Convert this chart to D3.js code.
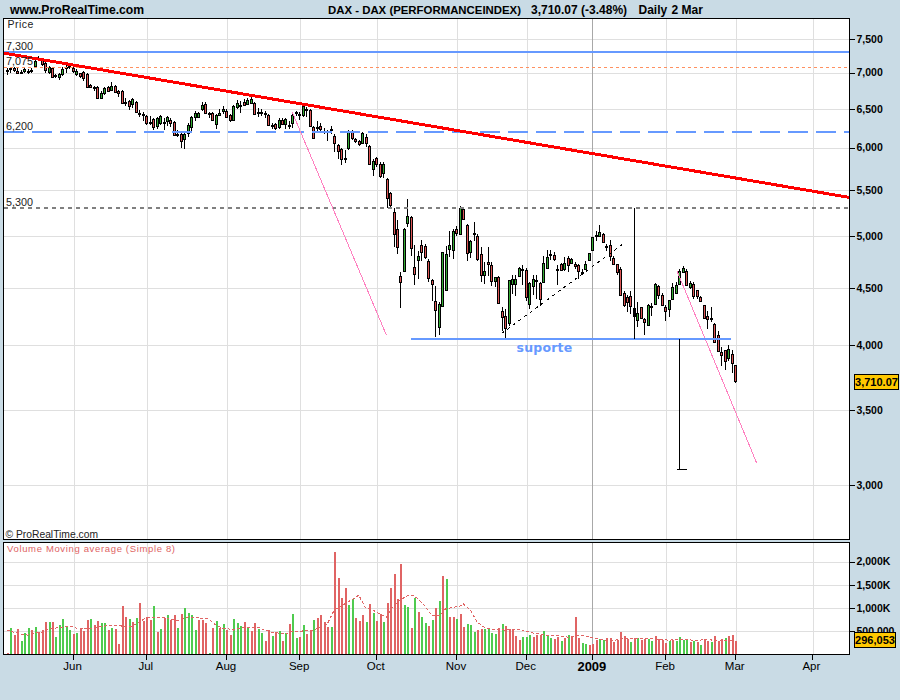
<!DOCTYPE html>
<html><head><meta charset="utf-8">
<script src="https://cdn.jsdelivr.net/npm/d3@7/dist/d3.min.js"></script>
<style>html,body{margin:0;padding:0;background:#c9dbe5}svg{display:block}text{font-family:"Liberation Sans",Arial,sans-serif}</style>
</head><body><svg id="c" width="900" height="700"></svg>
<script>
const opens=[7020,7050,7060,7030,7005,7020,7030,7035,7092,7205,
7180,7135,7006,7063,6963,6935,6977,7075,7092,7063,
6977,6990,7006,6977,6823,6795,6795,6644,6712,6795,
6754,6809,6740,6740,6590,6603,6563,6590,6444,6431,
6405,6320,6365,6276,6314,6318,6340,6352,6327,6165,
6174,6111,6186,6263,6392,6392,6497,6563,6444,6444,
6301,6418,6470,6470,6418,6352,6523,6550,6590,6563,
6577,6577,6457,6457,6444,6418,6288,6301,6263,6352,
6301,6288,6314,6444,6418,6418,6483,6483,6263,6263,
6276,6212,6212,6237,6149,6036,5987,5878,6000,6199,
6111,6086,6061,6136,6024,5748,5878,5807,5702,5620,
5461,5253,5074,4610,4657,5137,5200,4695,4763,4911,
4901,4753,4573,4381,4154,4336,4480,4871,4861,5074,
5023,5286,5116,4841,5033,5003,4822,4620,4743,4714,
4563,4601,4292,4248,4188,4535,4535,4610,4676,4667,
4354,4517,4573,4545,4554,4686,4822,4812,4676,4724,
4676,4782,4734,4724,4714,4648,4676,4763,4861,5013,
5003,5023,4901,4911,4782,4724,4676,4453,4417,4426,
4319,4214,4327,4222,4171,4336,4354,4517,4435,4327,
4310,4399,4453,4535,4648,4657,4508,4535,4480,4417,
4345,4248,4231,4180,4079,3939,3955,3891,3923,3836];
const highs=[7063,7080,7075,7060,7035,7063,7050,7063,7180,7240,
7200,7150,7090,7075,6975,6990,7078,7110,7115,7090,
7050,7000,7020,7000,6837,6810,6810,6740,6800,6810,
6860,6820,6760,6760,6650,6620,6644,6603,6483,6450,
6420,6405,6380,6395,6420,6372,6405,6370,6340,6224,
6190,6185,6310,6405,6470,6450,6590,6590,6460,6460,
6430,6500,6530,6500,6430,6550,6620,6603,6630,6644,
6660,6590,6510,6500,6470,6430,6315,6315,6370,6370,
6380,6340,6440,6470,6450,6560,6525,6500,6276,6340,
6310,6250,6225,6276,6170,6040,6000,5975,6225,6225,
6124,6100,6199,6174,6036,5860,5890,5820,5830,5640,
5480,5297,5169,4648,5085,5395,5211,4911,4851,4962,
4921,4770,4582,4517,4370,4841,4901,5054,5074,5106,
5318,5300,5127,4960,5148,5020,4892,4743,4892,4740,
4601,4605,4327,4310,4573,4620,4620,4695,4714,4686,
4550,4620,4620,4550,4802,4861,4861,4841,4714,4734,
4792,4802,4782,4743,4724,4676,4753,4832,4993,5054,
5116,5033,4921,4960,4802,4724,4695,4471,4430,4471,
4327,4372,4327,4231,4354,4363,4545,4526,4453,4345,
4390,4545,4554,4672,4705,4676,4563,4550,4480,4420,
4345,4292,4327,4185,4120,3980,3960,3996,3960,3840];
const lows=[6965,7000,7010,6975,6990,6990,6985,7000,7063,7180,
7100,6990,6975,6920,6920,6895,6950,7000,7050,7000,
6950,6920,6880,6781,6781,6740,6630,6630,6680,6720,
6740,6712,6660,6563,6537,6483,6510,6450,6390,6340,
6288,6288,6224,6240,6288,6224,6276,6263,6140,6130,
6000,5985,6135,6199,6340,6370,6470,6430,6380,6340,
6230,6405,6430,6380,6325,6340,6500,6437,6530,6550,
6563,6415,6390,6405,6380,6274,6240,6224,6240,6290,
6240,6240,6250,6400,6350,6390,6392,6260,6110,6180,
6200,6165,6086,6165,5950,5866,5795,5810,5975,6100,
6060,6020,6049,6012,5795,5663,5770,5632,5640,5297,
5297,4892,4822,4319,4650,5100,4802,4526,4582,4753,
4773,4554,4381,4070,4079,4336,4480,4792,4773,5000,
5023,5170,4753,4780,4952,4753,4554,4535,4610,4517,
4510,4354,4120,4045,4163,4444,4426,4610,4526,4381,
4310,4435,4400,4336,4545,4676,4763,4753,4526,4657,
4657,4648,4730,4676,4582,4620,4667,4758,4851,4952,
5003,4932,4851,4753,4714,4620,4426,4327,4283,4266,
4222,4154,4222,4079,4163,4248,4345,4399,4336,4205,
4240,4390,4444,4535,4640,4517,4490,4400,4399,4372,
4222,4137,4197,4020,3947,3828,3798,3867,3774,3700];
const closes=[7035,7065,7035,7000,7015,7045,7020,7040,7165,7215,
7121,7035,7078,6935,6955,6977,7050,7085,7080,7020,
7020,6950,6921,6795,6795,6790,6644,6712,6781,6740,
6809,6726,6712,6577,6585,6537,6630,6457,6437,6425,
6314,6310,6263,6379,6405,6310,6392,6314,6161,6158,
6086,6174,6288,6392,6444,6444,6550,6444,6437,6352,
6418,6444,6497,6392,6352,6537,6577,6545,6550,6617,
6630,6431,6450,6450,6440,6288,6282,6250,6352,6301,
6365,6280,6418,6450,6425,6537,6490,6276,6124,6258,
6237,6205,6205,6232,6061,5963,5866,5870,6199,6124,
6086,6049,6186,6061,5807,5842,5807,5667,5807,5406,
5330,5023,4892,4554,5074,5211,4882,4629,4802,4841,
4792,4591,4535,4301,4354,4841,4822,4911,5054,5033,
5297,5179,4832,4952,5028,4773,4620,4657,4725,4563,
4601,4363,4240,4146,4573,4582,4582,4686,4672,4417,
4545,4582,4570,4399,4734,4792,4825,4773,4672,4667,
4734,4714,4773,4705,4657,4645,4724,4832,4993,5018,
5044,4942,4896,4802,4724,4648,4435,4345,4372,4336,
4248,4275,4231,4197,4345,4332,4535,4435,4345,4292,
4390,4508,4526,4657,4686,4526,4545,4426,4426,4381,
4231,4222,4228,4029,3947,3915,3867,3963,3852,3710];

const volumes=[22,566,413,544,283,457,566,522,587,479,
522,696,696,696,370,631,761,609,522,435,
457,566,500,740,761,631,718,674,674,522,
566,544,218,1044,805,761,696,783,1109,718,
805,740,1044,479,544,783,848,740,848,566,
870,1000,892,848,522,740,740,674,22,566,
718,566,653,522,413,761,674,609,696,587,
500,674,544,457,283,522,392,479,500,283,
457,653,870,348,370,631,435,500,740,783,
848,696,587,587,2197,1653,1218,1436,1066,1196,
783,718,848,696,1088,892,718,870,696,1109,
1436,1740,1196,1936,1066,1022,566,1218,914,805,
674,609,740,1000,1153,1697,1631,805,805,761,
870,587,653,631,479,522,544,544,544,457,
435,566,653,609,544,544,392,305,370,370,
413,370,413,413,500,392,348,326,370,283,
348,413,370,805,348,239,218,196,218,305,
326,305,348,348,261,305,479,392,326,261,
348,348,305,326,326,283,392,326,305,239,
283,305,283,370,305,326,261,283,261,196,
326,283,261,392,283,326,348,392,413,296];
const volumeSides=[
"rgrrgggrgr","rrgrgggggr","grrrgrrggr","grrrrgrgrr",
"rrgrgrgrrg","rggggrrrgr","grgrrgggrg","rrggrrgrgr",
"grggrgrrgr","rrrgrrrrgg","rrrgrgrrgr","rrrrggrgrg",
"grgrgrgrrg","rrgggrrggg","grgrrrrrgg","grrrgggrrg",
"rgrrrggrrr","ggrrrrrrrg","rgrrggrrrr","grggggrgrg",
"rrgrrrgrrr"].join("");
const maIndex=[0,2,4,6,8,10,12,14,16,18,20,22,24,26,28,30,32,34,36,38,40,42,44,46,48,50,52,54,56,58,60,62,64,65,68,70,72,74,76,78,80,82,84,
86,88,90,92,94,96,98,100,101,103,105,107,109,111,113,115,117,120,122,124,126,130,131,133,135,137,139,143,147,151,155,159,161,165,169,173,178,183,187,190,194,198,201,204,208];
const maValues=[522,478,435,413,457,478,544,565,587,609,565,544,551,587,609,631,631,587,609,696,783,797,783,783,739,739,805,797,768,761,631,565,544,522,587,587,587,522,478,457,435,500,486,
522,522,587,652,957,1044,1131,1218,1276,1000,957,870,797,1044,1175,1261,1261,1044,826,826,979,1037,1087,957,696,587,544,522,544,457,413,392,370,413,348,283,348,348,326,305,326,297,326,283,305];

const priceTicks=[7500,7000,6500,6000,5500,5000,4500,4000,3500,3000];
const volumeTicks=[2000,1500,1000,500];
const monthIndex=[19,40,63,84,106,129,149,168,189,209,231];
const monthLabels=["Jun","Jul","Aug","Sep","Oct","Nov","Dec","2009","Feb","Mar","Apr"];
const levelValues=[7300,7075,6200,5300];
const levelLabels=["7,300","7,075","6,200","5,300"];
const trendIdx=[-0.8,241.7], trendPrice=[7285,5417];
const pinkAIdx=[81.9,109], pinkAPrice=[6457,4079];
const pinkBIdx=[192.3,215.2], pinkBPrice=[4660,3139];
const dotIdx=[142,176.8], dotPrice=[4095,4921];
const supportIdx=[116,207.8], supportPrice=4050;
const measureAIdx=180.2, measureAPrice=[5300,4050];
const measureBIdx=193, measureBPrice=[4050,3094], measureFootIdx=[192.4,195.2];
const lastPrice=3710.07, lastVolume=296053;

const L=3.5,R=849.5,T=18.5,B1=539.5,T2=542.5,B2=654.5;
const x=d3.scaleLinear().domain([0,231]).range([6.7,811.7]);
const y=d3.scaleLog().domain([3000,7500]).range([485,39]);
const v=d3.scaleLinear().domain([0,2000]).range([654.3,561.5]);
const svg=d3.select("#c");
const bg="#c9dbe5",RED="#e06464",GREEN="#4fcb4f",BLUE="#6699ff",PINK="#ff80c0";
const GRID="#dfdfdf",FONT='"Liberation Sans",Arial,sans-serif';
svg.append("rect").attr("width",900).attr("height",700).attr("fill",bg);

// header
const hdr=[["www.ProRealTime.com",10,14,12.2],["DAX - DAX (PERFORMANCEINDEX)",328,14,11.4],["3,710.07 (-3.48%)",531,14,12],["Daily",638.5,14,12],["2 Mar",671.5,14,12]];
svg.selectAll("text.h").data(hdr).join("text").attr("class","h").attr("x",d=>d[1]).attr("y",d=>d[2]).attr("font-size",d=>d[3]).attr("font-weight","bold").attr("fill","#000").text(d=>d[0]);

// panels
[[T,B1],[T2,B2]].forEach(([a,b])=>svg.append("rect").attr("x",L).attr("y",a).attr("width",R-L).attr("height",b-a).attr("fill","#fff"));
const crisp=s=>s.attr("shape-rendering","crispEdges");
const px=i=>Math.round(x(i))+0.5;
// grid
const grid=crisp(svg.append("g"));
priceTicks.forEach(p=>grid.append("line").attr("x1",L).attr("x2",R).attr("y1",Math.round(y(p))+.5).attr("y2",Math.round(y(p))+.5).attr("stroke",GRID));
volumeTicks.forEach(p=>grid.append("line").attr("x1",L).attr("x2",R).attr("y1",Math.round(v(p))+.5).attr("y2",Math.round(v(p))+.5).attr("stroke",GRID));
monthIndex.forEach((m,k)=>{const X=Math.round(x(m))+.5+(k===7?0:0.5);
 [[T,B1],[T2,B2]].forEach(([a,b])=>grid.append("line").attr("x1",X).attr("x2",X).attr("y1",a).attr("y2",b).attr("stroke",k===7?"#a8a8a8":GRID));});

// candles
const candles=d3.range(opens.length).map(i=>({i,o:opens[i],h:highs[i],l:lows[i],c:closes[i]}));
const cg=crisp(svg.append("g"));
cg.selectAll("line").data(candles).join("line").attr("x1",d=>px(d.i)).attr("x2",d=>px(d.i)).attr("y1",d=>y(d.h)).attr("y2",d=>y(d.l)).attr("stroke","#000");
cg.selectAll("rect").data(candles).join("rect")
 .attr("x",d=>px(d.i)-1).attr("width",2)
 .attr("y",d=>Math.round(y(Math.max(d.o,d.c)))+.5)
 .attr("height",d=>Math.max(1,Math.round(Math.abs(y(d.o)-y(d.c)))))
 .attr("fill",d=>d.c>=d.o?"#33aa33":"#dd5555").attr("stroke","#000");

// annotations
const ann=crisp(svg.append("g"));
function seg(xs,ps,stroke,w,dash){ann.append("line").attr("x1",x(xs[0])).attr("x2",x(xs[1])).attr("y1",y(ps[0])).attr("y2",y(ps[1])).attr("stroke",stroke).attr("stroke-width",w).attr("stroke-dasharray",dash||null);}
const xEdges=[x.invert(L),x.invert(R)];
seg(xEdges,[levelValues[0],levelValues[0]],BLUE,2);
seg(xEdges,[levelValues[1],levelValues[1]],"#ff9060",1,"3,3");
seg(xEdges,[levelValues[2],levelValues[2]],BLUE,2,"20,8");
seg(xEdges,[levelValues[3],levelValues[3]],"#808080",2,"4,4");
seg(pinkAIdx,pinkAPrice,PINK,1);
seg(pinkBIdx,pinkBPrice,PINK,1);
seg(dotIdx,dotPrice,"#000",1,"3,4");
seg(supportIdx,[supportPrice,supportPrice],BLUE,2);
seg([measureAIdx,measureAIdx],measureAPrice,"#000",1.2);
seg([measureBIdx,measureBIdx],measureBPrice,"#000",1.2);
seg(measureFootIdx,[measureBPrice[1],measureBPrice[1]],"#000",1);
seg(trendIdx,trendPrice,"#ff0000",3);

svg.append("text").attr("x",516.5).attr("y",352).attr("font-size",12.5).attr("font-weight","bold").attr("letter-spacing",0.2).attr("fill",BLUE).style("font-family","'DejaVu Sans'").text("suporte");
svg.selectAll("text.lv").data(levelValues).join("text").attr("class","lv").attr("x",6).attr("y",(d,i)=>[50,65,129.5,206][i]).attr("font-size",10.8).attr("fill","#222").text((d,i)=>levelLabels[i]);
svg.append("text").attr("x",7.5).attr("y",28).attr("font-size",10.5).attr("letter-spacing",0.5).attr("fill","#222").text("Price");
svg.append("text").attr("x",5.5).attr("y",537.5).attr("font-size",10.3).attr("fill","#222").text("© ProRealTime.com");

// volume
const vg=crisp(svg.append("g"));
vg.selectAll("rect").data(volumes).join("rect").attr("x",(d,i)=>Math.round(x(i))-.5).attr("width",2).attr("y",d=>Math.round(v(d))).attr("height",d=>654-Math.round(v(d))).attr("fill",(d,i)=>volumeSides[i]==="g"?GREEN:RED);
const ma=d3.line().x((d,i)=>x(maIndex[i])).y(d=>v(d)).curve(d3.curveLinear);
crisp(svg.append("path")).datum(maValues).attr("d",ma).attr("fill","none").attr("stroke",RED).attr("stroke-width",1).attr("stroke-dasharray","3,2");
svg.append("text").attr("x",7).attr("y",552).attr("font-size",9.5).attr("letter-spacing",0.65).attr("fill",RED).text("Volume Moving average (Simple 8)");

// frames
[[T,B1],[T2,B2]].forEach(([a,b])=>crisp(svg.append("rect")).attr("x",L).attr("y",a).attr("width",R-L).attr("height",b-a).attr("fill","none").attr("stroke","#000"));

// axes
function styleAxis(g,fs,w){g.select(".domain").remove();g.selectAll(".tick line").attr("stroke","#000").attr("shape-rendering","crispEdges");g.selectAll(".tick text").attr("font-size",fs).attr("font-weight",w).attr("fill","#000").style("font-family",FONT);}
const ya=svg.append("g").attr("transform",`translate(${R},0)`).call(d3.axisRight(y).tickValues(priceTicks).tickFormat(d3.format(",")).tickSize(5).tickPadding(2));
styleAxis(ya,10.5,"bold");
const fmtVol=d=>d>=1000?d3.format(",")(d)+"K":"500,000";
const va=svg.append("g").attr("transform",`translate(${R},0)`).call(d3.axisRight(v).tickValues(volumeTicks).tickFormat(fmtVol).tickSize(5).tickPadding(2));
styleAxis(va,10.5,"bold");
const xa=svg.append("g").attr("transform",`translate(0,${B2})`).call(d3.axisBottom(x).tickValues(monthIndex).tickFormat((d,i)=>monthLabels[i]).tickSize(5).tickPadding(2.5));
styleAxis(xa,11.5,"normal");
xa.selectAll(".tick text").attr("dx",-0.8);
xa.selectAll(".tick text").filter((d,i)=>monthLabels[i]==="2009").attr("font-weight","bold").attr("font-size",13);

// value flags
function flag(x0,x1,yc,h,t){const g=svg.append("g");
 crisp(g.append("rect")).attr("x",x0).attr("y",yc-h/2).attr("width",x1-x0).attr("height",h).attr("fill","#ffc800").attr("stroke","#000");
 g.append("text").attr("x",(x0+x1)/2).attr("y",yc+4).attr("text-anchor","middle").attr("font-size",11).attr("font-weight","bold").attr("fill","#000").text(t);}
flag(854.5,898.5,y(lastPrice),15,d3.format(",.2f")(lastPrice));
flag(854.5,895.5,v(lastVolume/1000)-0.5,15,d3.format(",")(lastVolume));
</script></body></html>
